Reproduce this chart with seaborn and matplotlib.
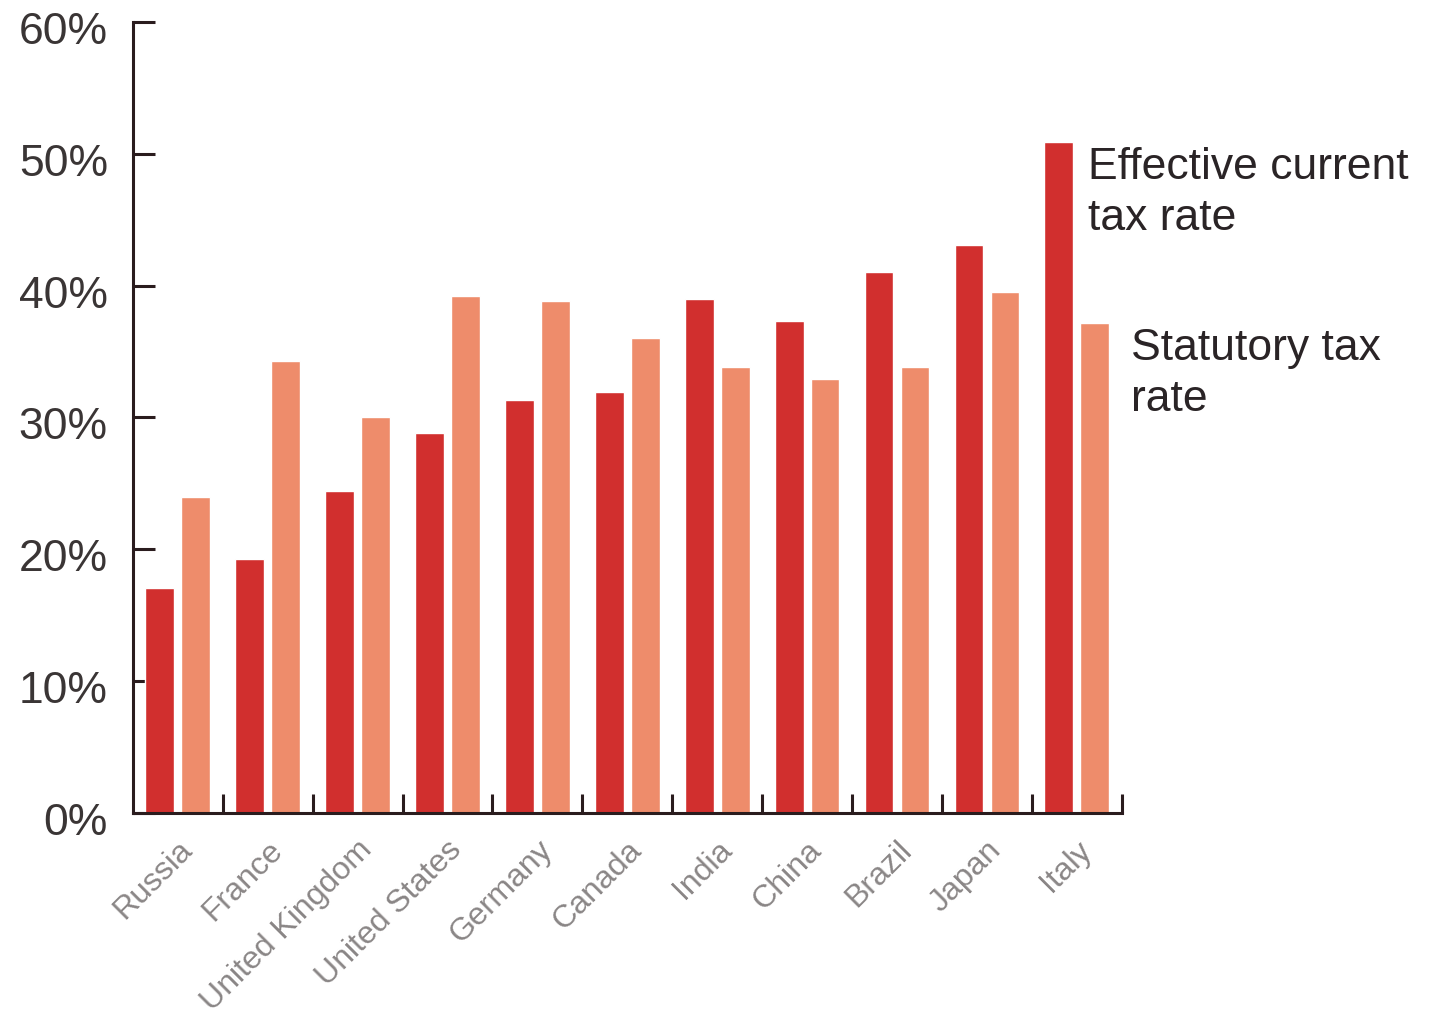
import matplotlib
matplotlib.use("Agg")
import matplotlib.pyplot as plt
import matplotlib.transforms as mtransforms
import seaborn as sns
import pandas as pd
from matplotlib.ticker import FixedLocator, PercentFormatter

countries = ["Russia", "France", "United Kingdom", "United States", "Germany",
             "Canada", "India", "China", "Brazil", "Japan", "Italy"]
effective_rate = [17.1, 19.3, 24.4, 28.8, 31.3, 31.9, 39.0, 37.3, 41.0, 43.1, 50.9]
statutory_rate = [24.0, 34.3, 30.0, 39.2, 38.8, 36.0, 33.8, 32.9, 33.8, 39.5, 37.2]
series_names = ["Effective current tax rate", "Statutory tax rate"]
series_labels = ["Effective current\ntax rate", "Statutory tax\nrate"]
y_ticks = [0, 10, 20, 30, 40, 50, 60]

df = pd.DataFrame({
    "country": countries * 2,
    "rate": effective_rate + statutory_rate,
    "series": [series_names[0]] * len(countries) + [series_names[1]] * len(countries),
})

sns.set_style("white")
plt.rcParams["font.family"] = ["Liberation Sans", "DejaVu Sans"]

fig = plt.figure(figsize=(14.29, 10.22), dpi=100)
ax = fig.add_axes([0.093, 0.2045, 0.692, 0.774])

palette = {series_names[0]: "#D12F2E", series_names[1]: "#EE8C6B"}
sns.barplot(data=df, x="country", y="rate", hue="series", order=countries,
            hue_order=series_names, palette=palette, saturation=1,
            width=0.8, gap=0.2, dodge=True, legend=False, ax=ax)

ax.set_xlim(-0.5, len(countries) - 0.5)
ax.set_ylim(0, 60)
ax.set_xlabel("")
ax.set_ylabel("")

axis_color = "#2a1c1e"
for side in ("top", "right"):
    ax.spines[side].set_visible(False)
for side in ("left", "bottom"):
    ax.spines[side].set_color(axis_color)
    ax.spines[side].set_linewidth(2.2)

ax.yaxis.set_major_locator(FixedLocator(y_ticks))
ax.yaxis.set_major_formatter(PercentFormatter(decimals=0))
ax.tick_params(axis="y", left=True, direction="in", length=16, width=2.2,
               color=axis_color, labelsize=32, labelcolor="#3a3535", pad=18)

# Category labels on major ticks (no tick mark), separators on minor ticks
ax.set_xticks(range(len(countries)))
ax.xaxis.set_minor_locator(FixedLocator([i + 0.5 for i in range(len(countries))]))
ax.tick_params(axis="x", which="major", bottom=True, length=0, pad=22)
ax.tick_params(axis="x", which="minor", bottom=True, direction="in", length=14,
               width=2.2, color=axis_color)
ax.set_xticklabels(countries, rotation=45, ha="right", va="center",
                   rotation_mode="anchor", fontsize=23, color="#8a8686")

x_shift = mtransforms.ScaledTranslation(10 / 100, -2 / 100, fig.dpi_scale_trans)
for lbl in ax.get_xticklabels():
    lbl.set_transform(lbl.get_transform() + x_shift)
y_shift = mtransforms.ScaledTranslation(0, -6 / 100, fig.dpi_scale_trans)
for lbl in ax.get_yticklabels():
    lbl.set_transform(lbl.get_transform() + y_shift)

# Series labels placed beside the Italy bars
last = len(countries) - 1
ax.text(last + 0.12, effective_rate[-1] - 0.4, series_labels[0], ha="left", va="top",
        fontsize=32, color="#2a2426", linespacing=1.3, clip_on=False)
ax.text(last + 0.6, statutory_rate[-1] - 0.45, series_labels[1], ha="left", va="top",
        fontsize=32, color="#2a2426", linespacing=1.3, clip_on=False)

fig.savefig("out.png", dpi=100, facecolor="white")
